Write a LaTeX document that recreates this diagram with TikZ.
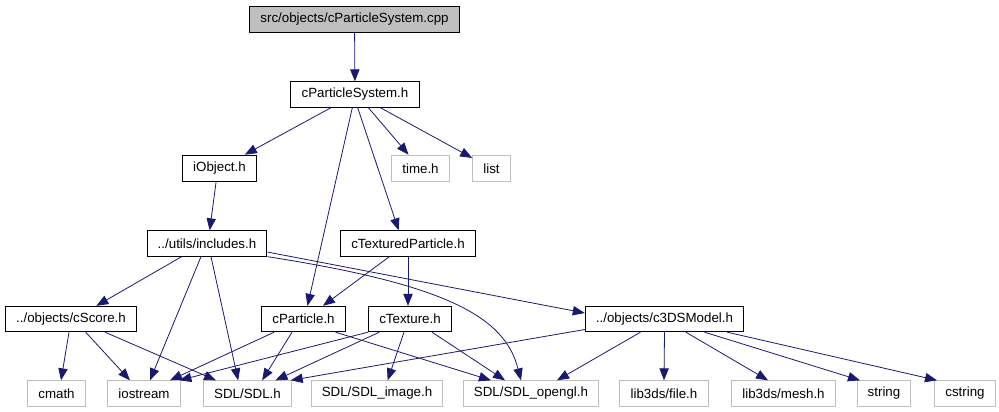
\documentclass[tikz,border=0pt]{standalone}
\usepackage{fontspec}
\setmainfont{Liberation Sans}
\usetikzlibrary{positioning, arrows.meta}

\definecolor{depblue}{HTML}{191970}
\definecolor{sysgray}{HTML}{BFBFBF}

\begin{document}
\begin{tikzpicture}[
  x=0.75pt, y=-0.75pt,
  >={Triangle[length=9pt, width=7pt]},
  font=\fontsize{10}{12}\selectfont,
  hdr/.style={draw, line width=0.75pt, minimum height=19pt, inner xsep=8pt, inner ysep=0pt},
  sys/.style={hdr, draw=sysgray},
  root/.style={hdr, fill=sysgray},
  dep/.style={->, draw=depblue, line width=0.6pt}
]
  \useasboundingbox (0,0) rectangle (999,411);

  % Top: the source file and its own header
  \node[root] (cpp) at (354.5,19.5) {src/objects/cParticleSystem.cpp};
  \node[hdr] (cps) at (355,94.5) {cParticleSystem.h};

  % Row 3
  \node[hdr, minimum height=20pt] (iobj) at (219.5,168.5) {iObject.h};
  \node[sys, minimum height=20pt] (timeh) at (420.5,168.5) {time.h};
  \node[sys, minimum height=20pt] (list) at (491.5,168.5) {list};

  % Row 4
  \node[hdr] (inc) at (207,243.5) {../utils/includes.h};
  \node[hdr] (ctp) at (408,243.5) {cTexturedParticle.h};

  % Row 5
  \node[hdr] (score) at (71,319) {../objects/cScore.h};
  \node[hdr] (part) at (303.5,319) {cParticle.h};
  \node[hdr] (tex) at (410,319) {cTexture.h};
  \node[hdr] (model) at (664.5,319) {../objects/c3DSModel.h};

  % Bottom row: system headers
  \node[sys] (cmath) at (56.5,393.5) {cmath};
  \node[sys] (iostr) at (144,393.5) {iostream};
  \node[sys] (sdl) at (247.5,393.5) {SDL/SDL.h};
  \node[sys] (img) at (377,393.5) {SDL/SDL\_image.h};
  \node[sys] (ogl) at (531,393.5) {SDL/SDL\_opengl.h};
  \node[sys] (file) at (664,393.5) {lib3ds/file.h};
  \node[sys] (mesh) at (783.5,393.5) {lib3ds/mesh.h};
  \node[sys] (str) at (884,393.5) {string};
  \node[sys] (cstr) at (965,393.5) {cstring};

  % Includes of the top two files
  \draw[dep] (cpp) -- (cps);
  \draw[dep] ([xshift=-18pt]cps.south) -- ([xshift=19pt]iobj.north);
  \draw[dep] ([xshift=-2pt]cps.south) -- ([xshift=3pt]part.north);
  \draw[dep] ([xshift=2pt]cps.south) -- ([xshift=-7pt]ctp.north);
  \draw[dep] ([xshift=10pt]cps.south) -- ([xshift=-9pt]timeh.north);
  \draw[dep] ([xshift=19pt]cps.south) -- (list);

  % iObject.h and includes.h
  \draw[dep] ([xshift=-2.6pt]iobj.south) -- ([xshift=2pt]inc.north);
  \draw[dep] ([xshift=-19pt]inc.south) -- ([xshift=19pt]score.north);
  \draw[dep] ([xshift=-4.5pt]inc.south) -- ([xshift=4.5pt]iostr.north);
  \draw[dep] ([xshift=3pt]inc.south) -- ([xshift=-7pt]sdl.north);
  \draw[dep] ([yshift=-6.4pt]inc.east) -- ([yshift=4.5pt]model.west);
  \draw[dep] (inc.south east) .. controls (450,285) and (505,318) .. ([xshift=-7.5pt]ogl.north);

  % cTexturedParticle.h
  \draw[dep] ([xshift=-14pt]ctp.south) -- ([xshift=14.6pt]part.north);
  \draw[dep] (ctp.south) -- ([xshift=-1.5pt]tex.north);

  % cScore.h
  \draw[dep] ([xshift=-1.5pt]score.south) -- ([xshift=3.4pt]cmath.north);
  \draw[dep] ([xshift=11pt]score.south) -- ([xshift=-10.5pt]iostr.north);
  \draw[dep] ([xshift=25.5pt]score.south) -- ([xshift=-23.6pt]sdl.north);

  % cParticle.h
  \draw[dep] ([xshift=-22pt]part.south) -- ([xshift=19.5pt]iostr.north);
  \draw[dep] ([xshift=-8.6pt]part.south) -- ([xshift=11pt]sdl.north);
  \draw[dep] ([xshift=24pt]part.south) -- ([xshift=-30pt]ogl.north);

  % cTexture.h
  \draw[dep] (tex.south west) -- ([xshift=-1pt]iostr.north east);
  \draw[dep] ([xshift=-23pt]tex.south) -- ([xshift=21pt]sdl.north);
  \draw[dep] ([xshift=-4.5pt]tex.south) -- ([xshift=8pt]img.north);
  \draw[dep] ([xshift=16.5pt]tex.south) -- ([xshift=-19.5pt]ogl.north);

  % c3DSModel.h
  \draw[dep] ([yshift=2pt]model.south west) -- ([xshift=-1pt]sdl.north east);
  \draw[dep] ([xshift=-18pt]model.south) -- ([xshift=19.5pt]ogl.north);
  \draw[dep] (model.south) -- (file.north);
  \draw[dep] ([xshift=16pt]model.south) -- ([xshift=-11.6pt]mesh.north);
  \draw[dep] ([xshift=30pt]model.south) -- ([xshift=-18pt]str.north);
  \draw[dep] ([xshift=47pt]model.south) -- ([xshift=-21pt]cstr.north);
\end{tikzpicture}
\end{document}
